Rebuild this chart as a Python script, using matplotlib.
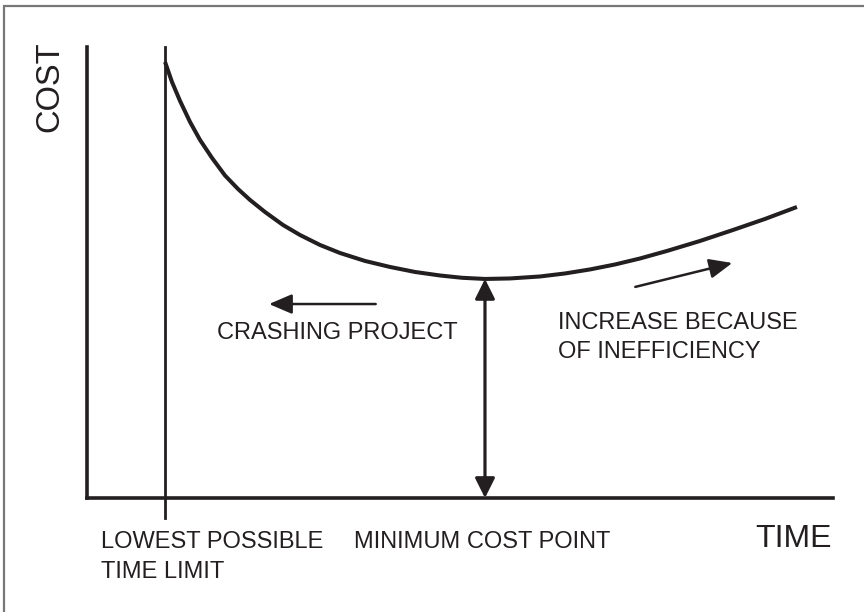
import matplotlib
matplotlib.use("Agg")
import matplotlib.pyplot as plt
from matplotlib.patches import Rectangle

plt.rcParams['font.family'] = ['Liberation Sans', 'DejaVu Sans']

INK = '#231f20'

# total cost curve (time vs cost, arbitrary units 0..10)
time = [1.046, 1.139, 1.247, 1.381, 1.515, 1.676, 1.850, 2.024, 2.185, 2.386,
        2.627, 2.855, 3.123, 3.391, 3.727, 4.062, 4.397, 4.732, 5.027, 5.335,
        5.670, 6.072, 6.408, 6.743, 7.078, 7.413, 7.775, 8.217, 8.660, 9.088,
        9.517]
cost = [9.667, 9.224, 8.803, 8.337, 7.938, 7.539, 7.150, 6.851, 6.608, 6.341,
        6.053, 5.831, 5.610, 5.432, 5.255, 5.122, 5.011, 4.933, 4.882, 4.856,
        4.867, 4.911, 4.978, 5.067, 5.177, 5.310, 5.477, 5.698, 5.942, 6.186,
        6.452]

lowest_time = 1.046     # lowest possible time limit
min_time = 5.335        # minimum cost point
min_cost = 4.856

crash_arrow = (3.87, 2.44, 4.30)             # x_tail, x_head, y
ineff_arrow = ((7.35, 4.68), (8.65, 5.21))   # tail, head

fig = plt.figure(figsize=(8.64, 6.12), dpi=100)

# gray border round the figure (only top and left edges visible)
fig.patches.append(Rectangle((0.0052, -0.05), 1.2, 1.04, transform=fig.transFigure,
                             fill=False, edgecolor='#777777', linewidth=1.6))

ax = fig.add_axes([0.1007, 0.1863, 0.8634, 0.737])
ax.set_xlim(0, 10)
ax.set_ylim(0, 10)
ax.set_xticks([])
ax.set_yticks([])
for side in ('top', 'right'):
    ax.spines[side].set_visible(False)
for side in ('left', 'bottom'):
    ax.spines[side].set_linewidth(2.6)
    ax.spines[side].set_color(INK)

# curve
ax.plot(time, cost, color=INK, lw=2.9, solid_capstyle='butt',
        solid_joinstyle='round', clip_on=False)

# lowest possible time limit line, runs a bit below the axis
ax.plot([lowest_time, lowest_time], [-0.44, 10], color=INK, lw=2.0, clip_on=False)

# double arrow at minimum cost point
ax.annotate('', xy=(min_time, min_cost), xytext=(min_time, 0),
            arrowprops=dict(arrowstyle='<|-|>,head_length=0.6,head_width=0.3',
                            color=INK, lw=2.3, mutation_scale=20,
                            shrinkA=0, shrinkB=0))

head = '-|>,head_length=0.7,head_width=0.3'
# crashing arrow
ax.annotate('', xy=(crash_arrow[1], crash_arrow[2]), xytext=(crash_arrow[0], crash_arrow[2]),
            arrowprops=dict(arrowstyle=head, color=INK, lw=1.8,
                            mutation_scale=20, shrinkA=0, shrinkB=0))

# inefficiency arrow
ax.annotate('', xy=ineff_arrow[1], xytext=ineff_arrow[0],
            arrowprops=dict(arrowstyle=head, color=INK, lw=1.8,
                            mutation_scale=20, shrinkA=0, shrinkB=0))

def px(x, y):
    return x / 864, 1 - y / 612

fs = 17
fig.text(*px(217, 333), 'CRASHING PROJECT', fontsize=fs, color=INK, va='center')
fig.text(*px(558, 337.5), 'INCREASE BECAUSE\nOF INEFFICIENCY', fontsize=fs, color=INK,
         va='center', linespacing=1.42)
fig.text(*px(101, 557), 'LOWEST POSSIBLE\nTIME LIMIT', fontsize=fs, color=INK,
         va='center', linespacing=1.47)
fig.text(*px(354, 542), 'MINIMUM COST POINT', fontsize=fs, color=INK, va='center')
fig.text(*px(755, 539), 'TIME', fontsize=23, color=INK, va='center')
fig.text(*px(50, 87), 'COST', fontsize=23.5, color=INK, va='center', ha='center',
         rotation=90)

fig.savefig('out.png', dpi=100)
